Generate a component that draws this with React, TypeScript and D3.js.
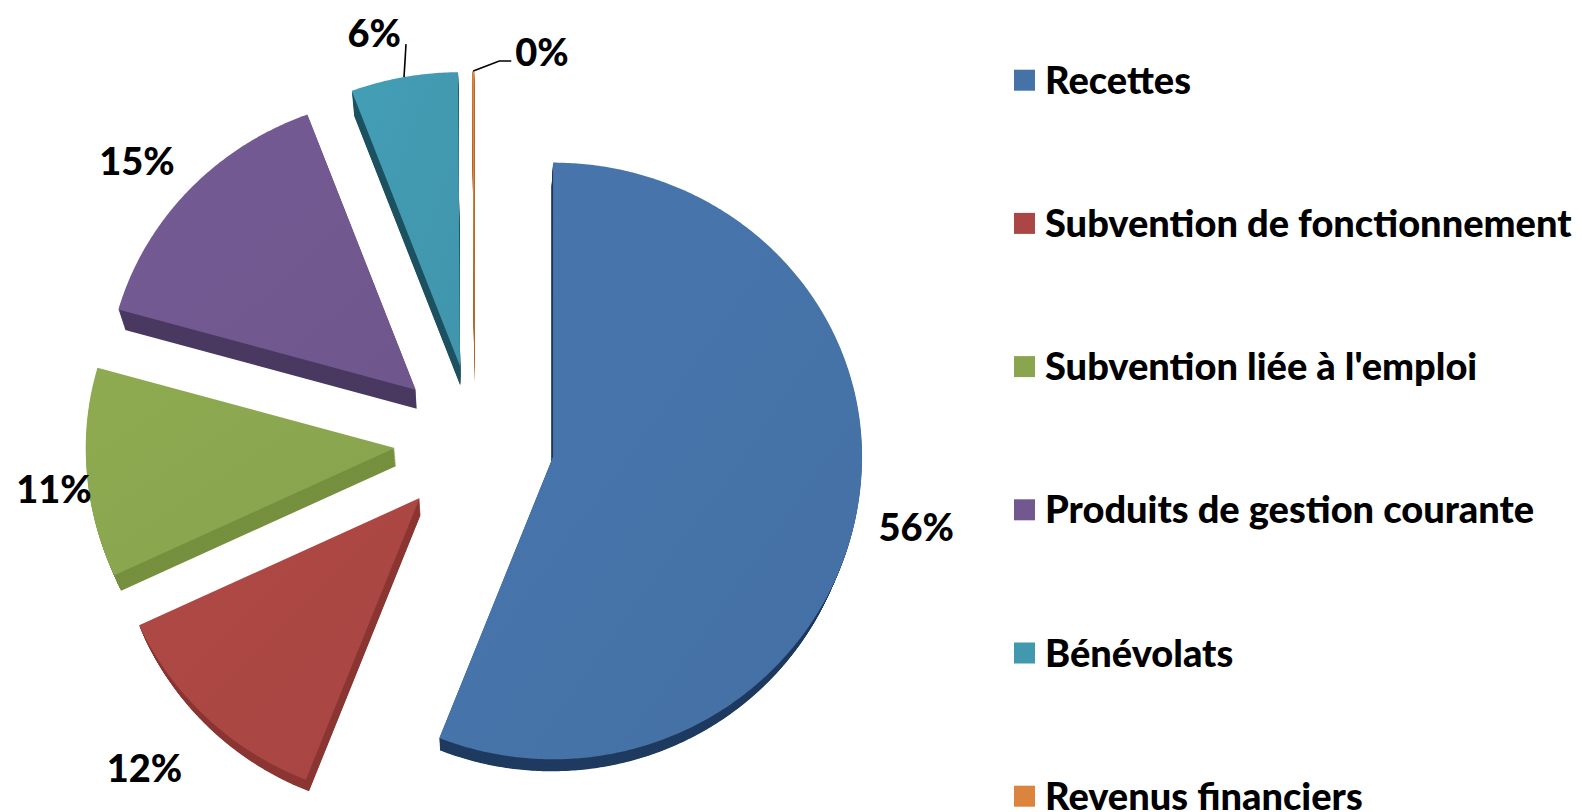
import React from "react";
import * as d3 from "d3";

// ---- data ----
const categories = [
  "Recettes",
  "Subvention de fonctionnement",
  "Subvention liée à l'emploi",
  "Produits de gestion courante",
  "Bénévolats",
  "Revenus financiers",
];
const values = [56.0, 12.1, 11.3, 14.9, 5.6, 0.1];

// ---- style ----
const colors = ["#4572A7", "#AA4643", "#89A54E", "#71588F", "#4198AF", "#DB843D"];
const wallColors = ["#1F3B60", "#8C3734", "#76903F", "#4A3961", "#1D5260", "#A8602A"];
const labelDist = [1.07, 1.17, 0.98, 1.1, 1, 1];
const labelDy = [8, 3, 17, 0, 0, 0];

const W = 1582;
const H = 812;
const CX = 474.5;
const CY = 442;
const R = 309;
const KU = 0.951; // vertical squash, far half
const KD = 0.98; // vertical squash, near half
const KE = 0.965; // squash of explosion vector
const EXPLODE = 80;
const VP: [number, number] = [474, 1390];
const DEPTH = 0.019;
const LAYERS = 22;
const FONT = "Lato, 'Open Sans', 'DejaVu Sans', sans-serif";
const FS = 38;

export default function App() {
  const pie = d3
    .pie<number>()
    .sort(null)
    .value((d) => d);
  const arcs = pie(values);
  const total = d3.sum(values);
  const fmt = d3.format(".0%");
  const line = d3.line();

  const proj = (theta: number, r: number): [number, number] => {
    const x = r * Math.sin(theta);
    const y = -r * Math.cos(theta);
    return [x, y < 0 ? y * KU : y * KD];
  };

  const slices = arcs.map((a, i) => {
    const mid = (a.startAngle + a.endAngle) / 2;
    const ax = CX + EXPLODE * Math.sin(mid);
    const ay = CY - EXPLODE * Math.cos(mid) * KE;
    const n = Math.max(2, Math.ceil((a.endAngle - a.startAngle) / (Math.PI / 360)));
    const pts: [number, number][] = [[ax, ay]];
    for (let k = 0; k <= n; k++) {
      const th = a.startAngle + ((a.endAngle - a.startAngle) * k) / n;
      const p = proj(th, R);
      pts.push([ax + p[0], ay + p[1]]);
    }
    const layers: string[] = [];
    for (let t = LAYERS; t >= 1; t--) {
      const f = 1 - (DEPTH * t) / LAYERS;
      const q = pts.map(
        ([x, y]) => [VP[0] + (x - VP[0]) * f, VP[1] + (y - VP[1]) * f] as [number, number]
      );
      layers.push(line(q) + "Z");
    }
    return { a, i, mid, ax, ay, top: line(pts) + "Z", layers };
  });

  const order = [...slices].sort((p, q) => p.ay - q.ay);

  const labels = slices.map((s) => {
    const txt = fmt(values[s.i] / total);
    if (s.i < 4) {
      const p = proj(s.mid, R * labelDist[s.i]);
      const hw = 39;
      const hh = 14;
      const x = s.ax + p[0] + hw * Math.sin(s.mid);
      const y = s.ay + p[1] - hh * Math.cos(s.mid) + labelDy[s.i];
      return { txt, x, y: y + 13.5, anchor: "middle", leader: null as null | string };
    }
    const p = proj(s.mid, R);
    const sx = s.ax + p[0];
    const sy = s.ay + p[1];
    if (s.i === 4) {
      const ex = sx + 2;
      const ey = sy - 33;
      return {
        txt,
        x: ex - 5,
        y: ey + 3,
        anchor: "end",
        leader: line([
          [sx, sy],
          [ex, ey],
        ]),
      };
    }
    const mx = sx + 26;
    const my = sy - 10;
    return {
      txt,
      x: mx + 16,
      y: my + 5,
      anchor: "start",
      leader: line([
        [sx, sy],
        [mx, my],
        [mx + 12, my],
      ]),
    };
  });

  const legendY = (i: number) => 80.2 + i * 143.2;

  return (
    <svg
      width={W}
      height={H}
      viewBox={`0 0 ${W} ${H}`}
      style={{ position: "absolute", left: 0, top: 0, display: "block", background: "#fff" }}
    >
      <defs>
        {colors.map((c, i) => (
          <linearGradient key={i} id={`g${i}`} x1="0" y1="0" x2="1" y2="1">
            <stop offset="0" stopColor={d3.color(c)!.brighter(0.1).formatHex()} />
            <stop offset="1" stopColor={d3.color(c)!.darker(0.05).formatHex()} />
          </linearGradient>
        ))}
      </defs>
      <rect x={0} y={0} width={W} height={H} fill="#fff" />
      {order.map((s) => (
        <g key={s.i}>
          {s.layers.map((d, k) => (
            <path key={k} d={d} fill={wallColors[s.i]} />
          ))}
          <path d={s.top} fill={`url(#g${s.i})`} />
        </g>
      ))}
      {labels.map((l, i) => (
        <g key={i}>
          {l.leader && <path d={l.leader} fill="none" stroke="#000" strokeWidth={1.6} />}
          <text
            x={l.x}
            y={l.y}
            textAnchor={l.anchor as any}
            fontFamily={FONT}
            fontWeight={900}
            fontSize={FS}
            fill="#000"
          >
            {l.txt}
          </text>
        </g>
      ))}
      {categories.map((c, i) => (
        <g key={c}>
          <rect x={1014} y={legendY(i) - 10.5} width={21} height={21} fill={colors[i]} />
          <text
            x={1045}
            y={legendY(i) + 13.5}
            fontFamily={FONT}
            fontWeight={900}
            fontSize={FS}
            fill="#000"
          >
            {c}
          </text>
        </g>
      ))}
    </svg>
  );
}
